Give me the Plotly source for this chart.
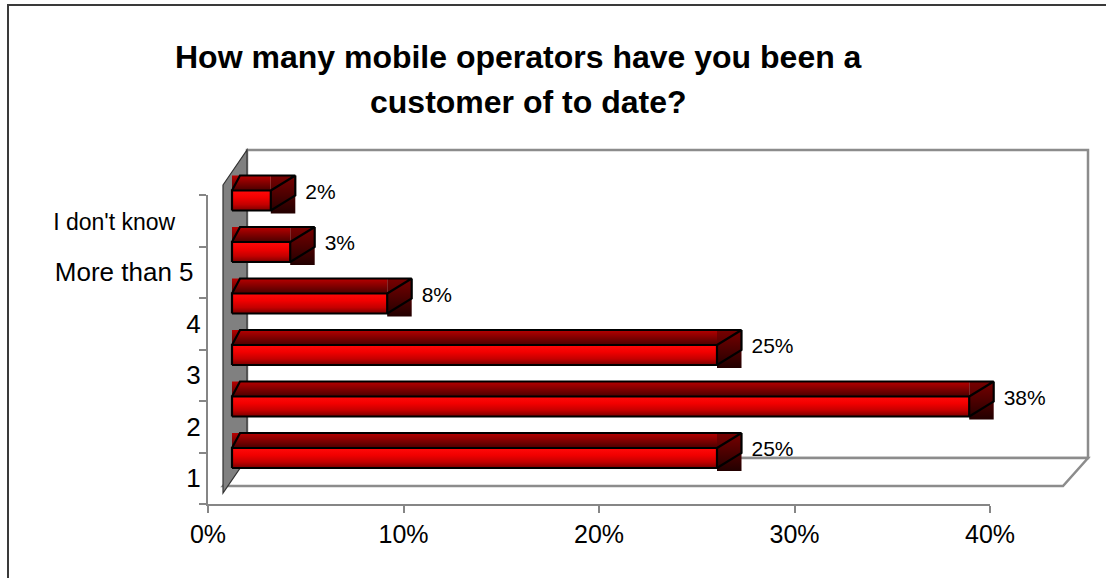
import plotly.graph_objects as go

# ---- data -------------------------------------------------------------
categories = ["1", "2", "3", "4", "More than 5", "I don't know"]
shares = [25, 38, 25, 8, 3, 2]          # percent of respondents
x_ticks = [0, 10, 20, 30, 40]
x_tick_labels = ["0%", "10%", "20%", "30%", "40%"]
title_lines = ["How many mobile operators have you been a", "customer of to date?"]

# ---- canvas geometry (pixels) -----------------------------------------
W, H = 1106, 578
FONT = "Liberation Sans, Arial, Helvetica, sans-serif"


def px(x):
    return x / W


def py(y):
    return 1 - y / H


# front axes frame
AX_LEFT, AX_RIGHT = 208, 990
AX_TOP, AX_BOTTOM = 195, 504

# bar plane: 0% origin, scale, category spacing
BAR_X0 = 232
BAR_PX_PER_PCT = 19.4
BAR_Y0 = 458
BAR_PX_PER_CAT = 51.5

# box dimensions expressed in bar-plane units
FRONT_HALF = 10 / BAR_PX_PER_CAT
DEPTH_X = 24.5 / BAR_PX_PER_PCT
DEPTH_Y = 15 / BAR_PX_PER_CAT
SLANT_X = 8 / BAR_PX_PER_PCT
SIDE_DROP = 3 / BAR_PX_PER_CAT
LABEL_GAP_X = 10 / BAR_PX_PER_PCT
LABEL_RISE_Y = 7 / BAR_PX_PER_CAT

FRONT_SCALE = [[0, "#7a0000"], [0.3, "#c40000"], [0.65, "#f20000"], [1, "#ff0a0a"]]
TOP_SCALE = [[0, "#4a0000"], [1, "#b80000"]]
SIDE_SCALE = [[0, "#220000"], [1, "#780000"]]

# category tick text: smaller type for the first label and a little
# right-hand padding on the two long labels
NBSP = "\u00a0"
tick_text = []
for c in categories:
    if c == "I don't know":
        tick_text.append(f"<span style='font-size:23px'>{c}{NBSP * 4}</span>")
    elif c == "More than 5":
        tick_text.append(c + NBSP)
    else:
        tick_text.append(c)

fig = go.Figure()

# invisible trace that carries the category axis
fig.add_trace(go.Bar(
    x=shares, y=categories, orientation="h",
    marker=dict(color="rgba(0,0,0,0)", line=dict(width=0)),
    hoverinfo="skip", showlegend=False, xaxis="x", yaxis="y",
))


def poly(xs, ys, scale):
    fig.add_trace(go.Scatter(
        x=xs + [xs[0]], y=ys + [ys[0]], mode="lines", fill="toself",
        line=dict(width=0, color="rgba(0,0,0,0)"),
        fillgradient=dict(type="vertical", colorscale=scale),
        hoverinfo="skip", showlegend=False, xaxis="x2", yaxis="y2",
    ))


# data labels (drawn before the boxes so the boxes sit on top)
fig.add_trace(go.Scatter(
    x=[v + DEPTH_X + LABEL_GAP_X for v in shares],
    y=[k + LABEL_RISE_Y for k in range(len(categories))],
    text=[f"{v}%" for v in shares],
    mode="text", textposition="middle right",
    textfont=dict(family=FONT, size=21, color="#000000"),
    hoverinfo="skip", showlegend=False, xaxis="x2", yaxis="y2",
))

outline_x, outline_y = [], []
for k in reversed(range(len(categories))):
    v = shares[k]
    yb, yt = k - FRONT_HALF, k + FRONT_HALF
    yback = yt + DEPTH_Y
    # top face
    poly([0, v, v, 0], [yt, yt, yback, yback], TOP_SCALE)
    # right face
    poly([v, v + DEPTH_X, v + DEPTH_X, v],
         [yb - SIDE_DROP, yb - SIDE_DROP, yback, yback], SIDE_SCALE)
    # front face
    poly([0, v, v, 0], [yb, yb, yt, yt], FRONT_SCALE)
    # edges
    outline_x += [0, v, v, 0, 0, None]
    outline_y += [yb, yb, yt, yt, yb, None]
    outline_x += [0, SLANT_X, v + DEPTH_X, v, None]
    outline_y += [yt, yback, yback, yt, None]
    outline_x += [v + DEPTH_X, v + DEPTH_X, v, None]
    outline_y += [yback, yb + DEPTH_Y, yb, None]

fig.add_trace(go.Scatter(
    x=outline_x, y=outline_y, mode="lines",
    line=dict(color="#000000", width=2.2),
    hoverinfo="skip", showlegend=False, xaxis="x2", yaxis="y2",
))


def path(points):
    return "M " + " L ".join(f"{px(x)},{py(y)}" for x, y in points) + " Z"


shapes = [
    # back wall
    dict(type="path", xref="paper", yref="paper", layer="below",
         path=path([(247, 150), (1088, 150), (1088, 458), (247, 458)]),
         fillcolor="#ffffff", line=dict(color="#8c8c8c", width=2.5)),
    # floor
    dict(type="path", xref="paper", yref="paper", layer="below",
         path=path([(247, 458), (1088, 458), (1063, 486), (223, 486)]),
         fillcolor="#ffffff", line=dict(color="#8c8c8c", width=2.5)),
    # side wall
    dict(type="path", xref="paper", yref="paper", layer="below",
         path=path([(223, 185), (247, 150), (247, 458), (223, 493)]),
         fillcolor="#808080", line=dict(color="#333333", width=1.2)),
    # chart frame
    dict(type="path", xref="paper", yref="paper", layer="above",
         path=f"M {px(8)},{py(H + 5)} L {px(8)},{py(5)} L {px(W + 5)},{py(5)}",
         line=dict(color="#3a3a3a", width=2)),
]

# two title lines, each centred on its own
title_annotations = [
    dict(text=f"<b>{line}</b>", xref="paper", yref="paper",
         x=px(cx), y=py(top), xanchor="center", yanchor="top",
         showarrow=False, font=dict(family=FONT, size=32, color="#000000"))
    for line, cx, top in zip(title_lines, [518, 528], [37, 82])
]

axis_line = "#868686"
fig.update_layout(
    width=W, height=H,
    margin=dict(l=0, r=0, t=0, b=0),
    paper_bgcolor="#ffffff", plot_bgcolor="rgba(0,0,0,0)",
    showlegend=False, hovermode=False,
    shapes=shapes,
    font=dict(family=FONT, color="#000000"),
    xaxis=dict(
        domain=[px(AX_LEFT), px(AX_RIGHT)], range=[0, 40], anchor="y",
        tickvals=x_ticks, ticktext=x_tick_labels,
        showline=True, linecolor=axis_line, linewidth=2,
        ticks="outside", ticklen=7, tickwidth=1.5, tickcolor=axis_line,
        tickfont=dict(family=FONT, size=25, color="#000000"),
        showgrid=False, zeroline=False, automargin=False,
    ),
    yaxis=dict(
        domain=[py(AX_BOTTOM), py(AX_TOP)], anchor="x",
        type="category", categoryorder="array", categoryarray=categories,
        range=[-0.5, len(categories) - 0.5],
        tickvals=categories, ticktext=tick_text,
        showline=True, linecolor=axis_line, linewidth=2,
        ticks="outside", tickson="boundaries", ticklen=7, tickwidth=1.5,
        tickcolor=axis_line,
        tickfont=dict(family=FONT, size=26, color="#000000"),
        showgrid=False, zeroline=False, automargin=False,
    ),
    xaxis2=dict(
        domain=[0, 1], anchor="y2", visible=False,
        range=[(0 - BAR_X0) / BAR_PX_PER_PCT, (W - BAR_X0) / BAR_PX_PER_PCT],
    ),
    yaxis2=dict(
        domain=[0, 1], anchor="x2", visible=False,
        range=[(BAR_Y0 - H) / BAR_PX_PER_CAT, BAR_Y0 / BAR_PX_PER_CAT],
    ),
    annotations=title_annotations,
)

fig.write_html("out.html")
